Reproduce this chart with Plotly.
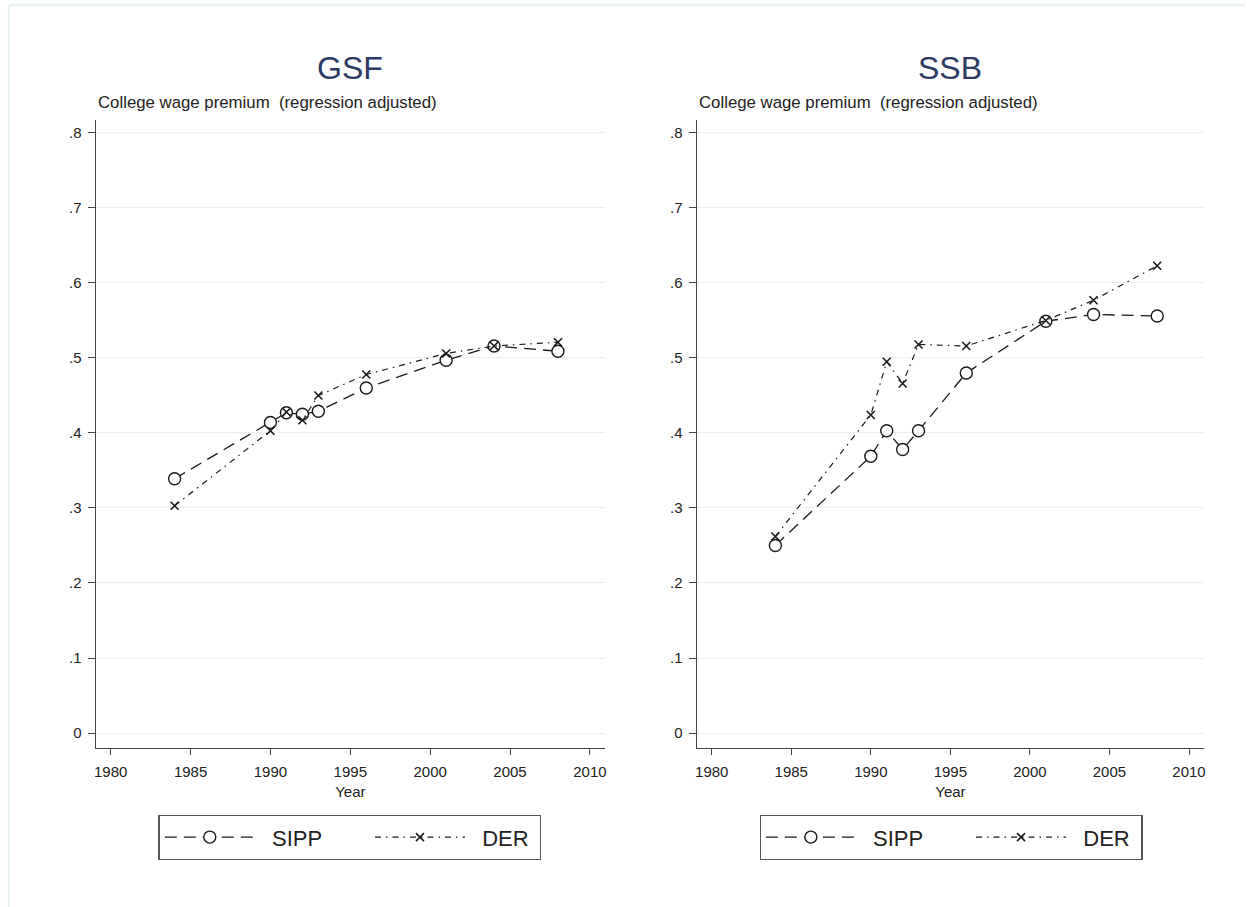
import plotly.graph_objects as go

years = [1984, 1990, 1991, 1992, 1993, 1996, 2001, 2004, 2008]

gsf_sipp = [0.339, 0.414, 0.427, 0.425, 0.429, 0.460, 0.497, 0.516, 0.509]
gsf_der = [0.303, 0.403, 0.428, 0.417, 0.450, 0.478, 0.506, 0.516, 0.521]

ssb_sipp = [0.250, 0.369, 0.403, 0.378, 0.403, 0.480, 0.549, 0.558, 0.556]
ssb_der = [0.262, 0.424, 0.495, 0.466, 0.518, 0.516, 0.550, 0.577, 0.623]

panel_titles = ["GSF", "SSB"]
NB = "\u00a0"
series_names = ["  SIPP" + NB * 7, "  DER" + NB * 1]
y_title = "College wage premium  (regression adjusted)"
x_title = "Year"
y_tickvals = [0, 0.1, 0.2, 0.3, 0.4, 0.5, 0.6, 0.7, 0.8]
y_ticktext = ["0", ".1", ".2", ".3", ".4", ".5", ".6", ".7", ".8"]
x_tickvals = [1980, 1985, 1990, 1995, 2000, 2005, 2010]

W, H = 1247, 907
FONT = "Liberation Sans"
INK = "#1a1a1a"

fig = go.Figure()

panels = [
    ("x", "y", "legend", gsf_sipp, gsf_der),
    ("x2", "y2", "legend2", ssb_sipp, ssb_der),
]

for xa, ya, lg, sipp, der in panels:
    fig.add_trace(go.Scatter(
        x=years, y=sipp, name=series_names[0], mode="lines+markers",
        xaxis=xa, yaxis=ya, legend=lg,
        line=dict(color=INK, width=1.3, dash="12px,7px"),
        marker=dict(symbol="circle", size=12, color="white",
                    line=dict(color=INK, width=1.4)),
    ))
    fig.add_trace(go.Scatter(
        x=years, y=der, name=series_names[1], mode="lines+markers",
        xaxis=xa, yaxis=ya, legend=lg,
        line=dict(color=INK, width=1.2, dash="6px,5px,1.5px,5px"),
        marker=dict(symbol="x-thin-open", size=8,
                    line=dict(color=INK, width=1.6)),
    ))

xdom = [(94 / W, 605 / W), (697 / W, 1206 / W)]
ydom = (1 - 748 / H, 1 - 120 / H)

axis_common_x = dict(
    range=[1979.06, 2010.95], tickvals=x_tickvals, showgrid=False,
    showline=True, linecolor="#444", linewidth=1.3, ticks="outside",
    ticklen=6, tickcolor="#444", tickwidth=1.2, zeroline=False,
    tickfont=dict(family=FONT, size=15, color="#222"),
    ticklabelstandoff=4,
    title=dict(text=x_title, font=dict(family=FONT, size=15, color="#222"),
               standoff=7),
)
axis_common_y = dict(
    range=[-0.02, 0.8173], tickvals=y_tickvals, ticktext=y_ticktext,
    showgrid=True, gridcolor="#e6eff1", gridwidth=1,
    showline=True, linecolor="#444", linewidth=1.3, ticks="outside",
    ticklen=7, tickcolor="#444", tickwidth=1.2, zeroline=False,
    tickfont=dict(family=FONT, size=15, color="#222"),
    ticklabelstandoff=3,
)

fig.update_layout(
    xaxis=dict(domain=xdom[0], anchor="y", **axis_common_x),
    yaxis=dict(domain=ydom, anchor="x", **axis_common_y),
    xaxis2=dict(domain=xdom[1], anchor="y2", **axis_common_x),
    yaxis2=dict(domain=ydom, anchor="x2", **axis_common_y),
)

legend_common = dict(
    orientation="h", xanchor="left", yanchor="top",
    bordercolor="#555", borderwidth=1.3, bgcolor="white",
    font=dict(family=FONT, size=22, color="#222"),
    itemwidth=90, itemclick=False, itemdoubleclick=False,
)
fig.update_layout(
    legend=dict(x=157 / W, y=1 - 815 / H, **legend_common),
    legend2=dict(x=760 / W, y=1 - 815 / H, **legend_common),
)

annotations = []
centers = [(94 + 605) / 2 / W, (697 + 1206) / 2 / W]
for cx, t in zip(centers, panel_titles):
    annotations.append(dict(
        text=t, x=cx, y=1 - 68 / H, xref="paper", yref="paper",
        xanchor="center", yanchor="middle", showarrow=False,
        font=dict(family=FONT, size=32, color="#2b3b63"),
    ))
for x0 in [94 / W, 697 / W]:
    annotations.append(dict(
        text=y_title, x=x0, y=1 - 102 / H, xref="paper", yref="paper",
        xanchor="left", yanchor="middle", showarrow=False,
        font=dict(family=FONT, size=16.8, color="#222"),
    ))
fig.update_layout(annotations=annotations)

# faint outer frame
fig.add_shape(type="line", xref="paper", yref="paper",
              x0=7 / W, x1=7 / W, y0=0, y1=1 - 5 / H,
              line=dict(color="#eaf1f3", width=2.5))
fig.add_shape(type="line", xref="paper", yref="paper",
              x0=7 / W, x1=1, y0=1 - 5 / H, y1=1 - 5 / H,
              line=dict(color="#eaf1f3", width=2.5))

fig.update_layout(
    width=W, height=H, autosize=False,
    margin=dict(l=0, r=0, t=0, b=0),
    paper_bgcolor="white", plot_bgcolor="white",
    font=dict(family=FONT, color="#222"),
)

fig.write_html("out.html", config={"displayModeBar": False})
